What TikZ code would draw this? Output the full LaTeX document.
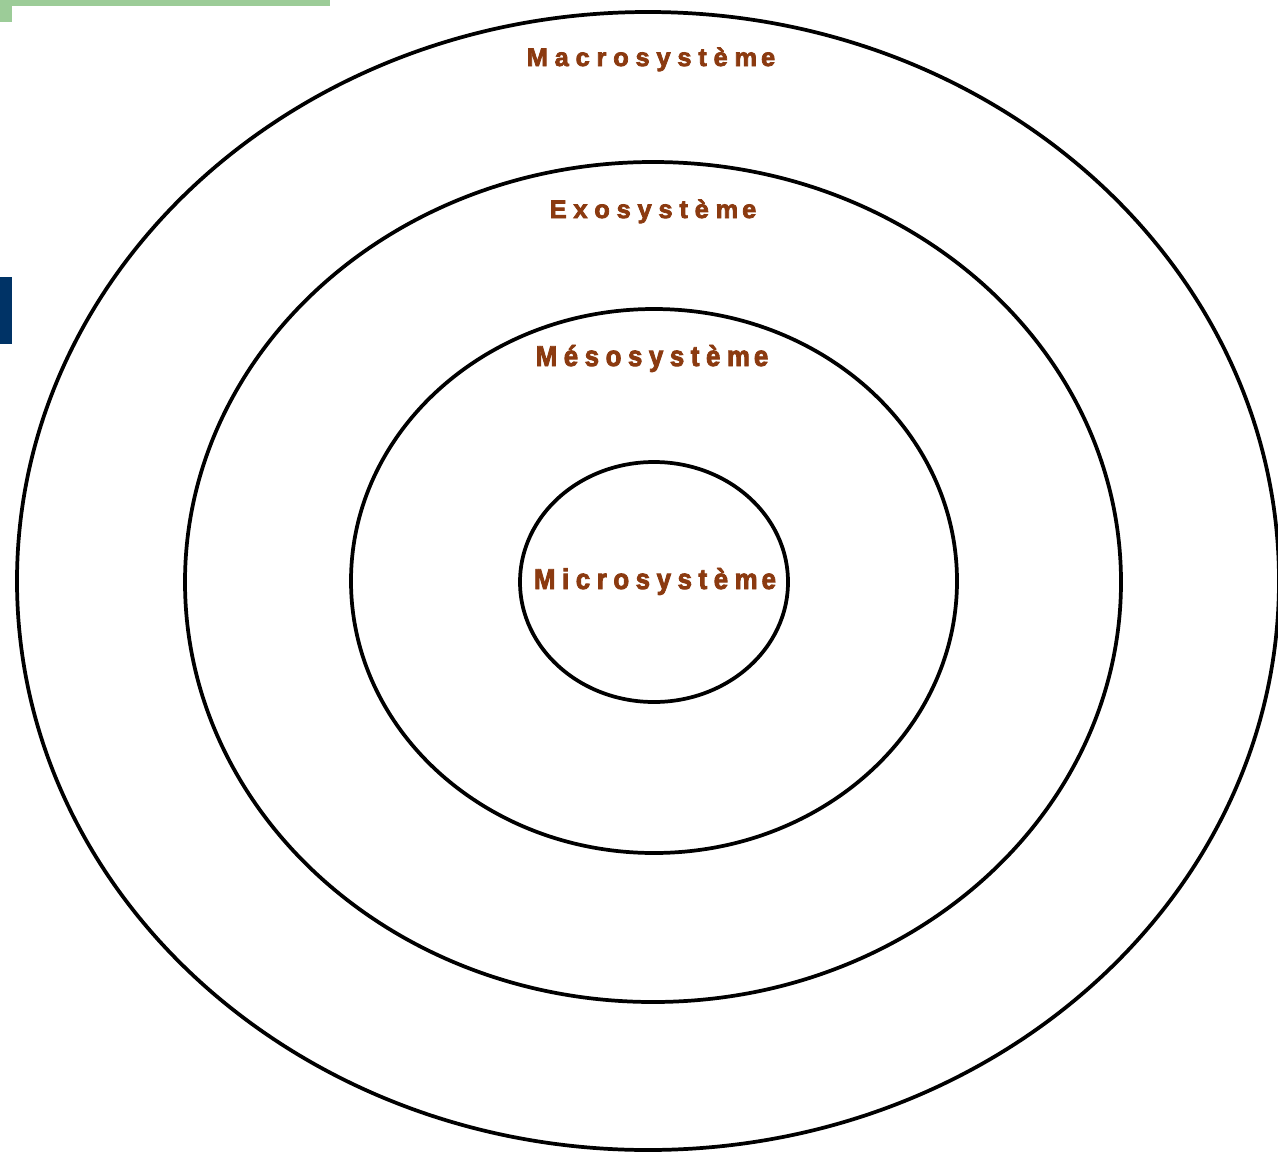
\documentclass[tikz,border=0pt]{standalone}
\usepackage{fontspec}
\setmainfont{Liberation Sans}
\newfontfamily\lblfont[LetterSpace=27,FakeBold=3]{Liberation Sans Bold}
\newfontfamily\lblfontb[LetterSpace=23,FakeBold=3,FakeStretch=0.9]{Liberation Sans Bold}
\definecolor{lblbrown}{HTML}{8B3A10}
\definecolor{barnavy}{HTML}{003366}
\definecolor{bargreen}{HTML}{9CCC98}
\begin{document}
\begin{tikzpicture}[x=0.75pt,y=-0.75pt,
  ring/.style={draw=black,line width=2.8pt},
  lbl/.style={font=\lblfont\fontsize{19}{22}\selectfont,text=lblbrown,inner sep=0pt,anchor=base},
  lblbig/.style={font=\lblfontb\fontsize{21.5}{25}\selectfont,text=lblbrown,inner sep=0pt,anchor=base}]
\useasboundingbox (0,0) rectangle (1278,1153);
\begin{scope}
\clip (0,0) rectangle (1278,1153);
\fill[bargreen] (0,0) rectangle (330,6);
\fill[bargreen] (0,0) rectangle (12,22);
\fill[barnavy] (0,277) rectangle (12,344);
\draw[ring] (648,581) ellipse [x radius=631, y radius=569];
\draw[ring] (653,582) ellipse [x radius=468, y radius=420];
\draw[ring] (654,581) ellipse [x radius=303, y radius=272];
\draw[ring] (654,582) ellipse [x radius=134, y radius=120];
\end{scope}
\node[lbl] (macro) at (651,66) {Macrosystèm\kern3pt e};
\node[lbl] (exo) at (653,218) {Exosystèm\kern3pt e};
\node[lblbig] (meso) at (652,366) {Mésosystèm\kern3pt e};
\node[lblbig] (micro) at (655,589) {Microsystèm\kern3pt e};
\end{tikzpicture}
\end{document}
